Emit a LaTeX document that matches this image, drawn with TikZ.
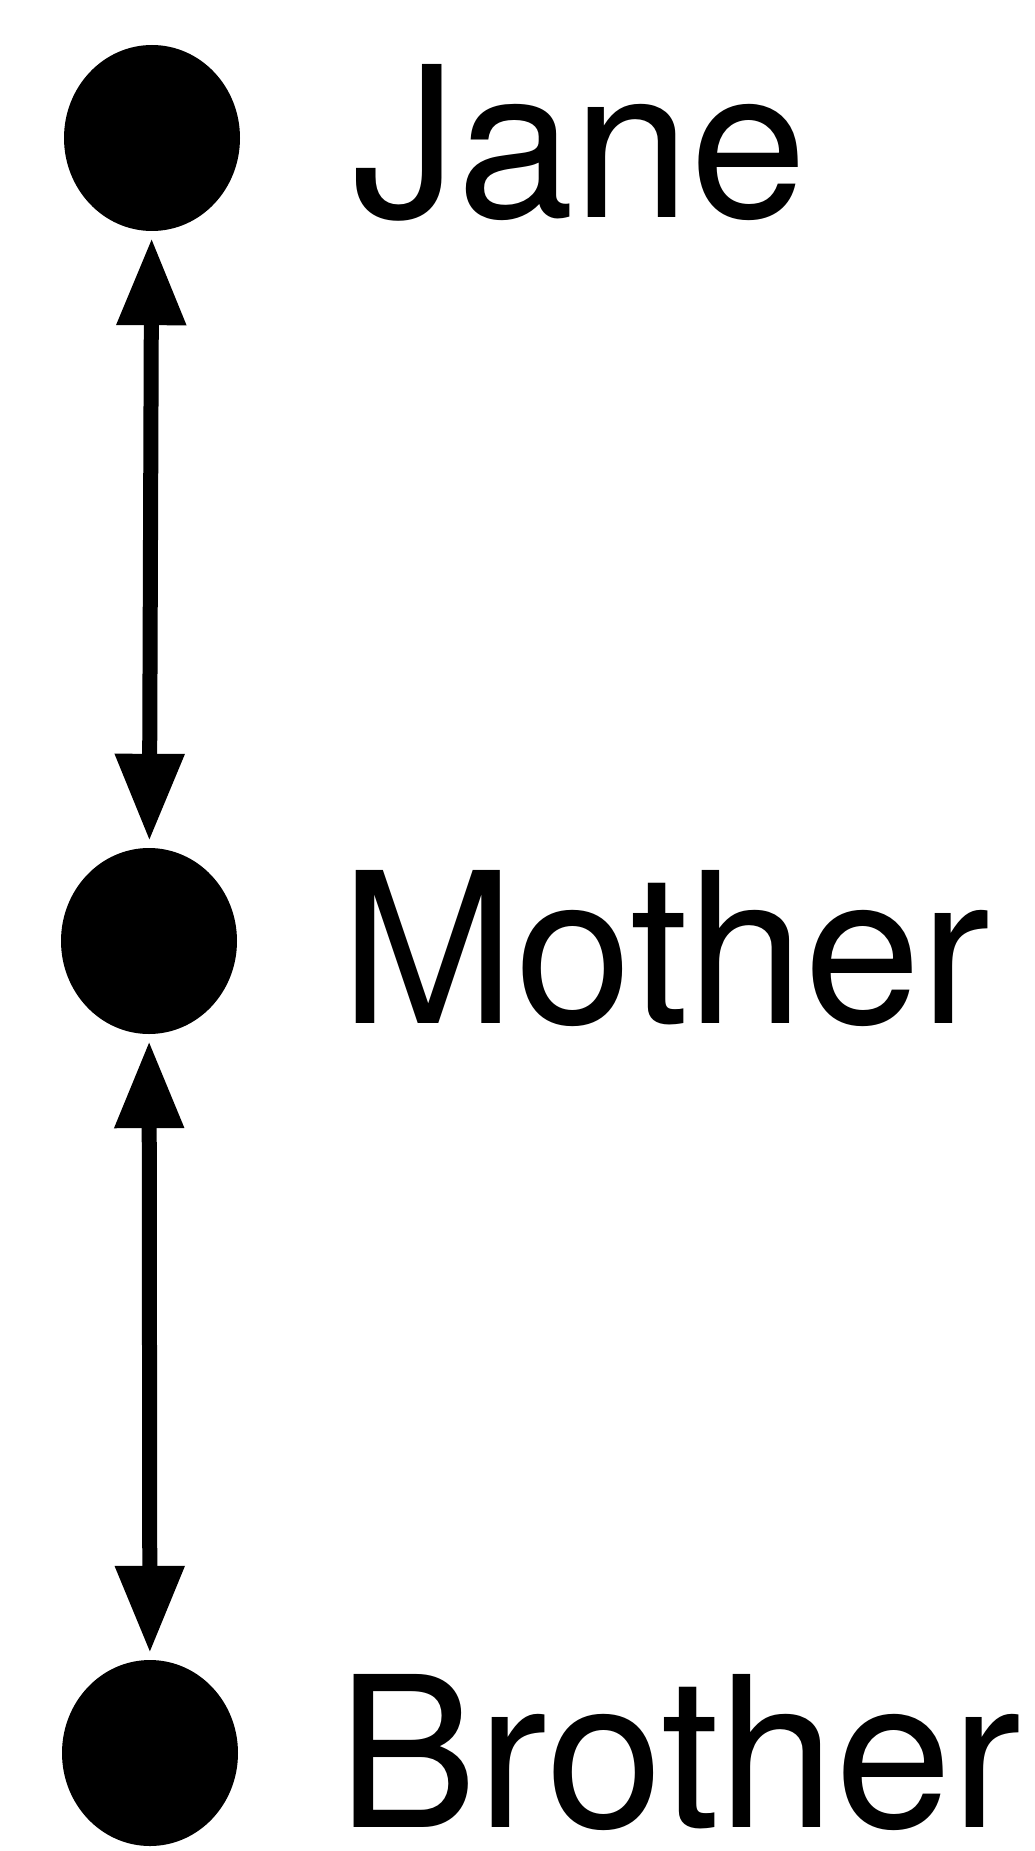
\documentclass[tikz,border=0pt]{standalone}
\usepackage{fontspec}
\setmainfont{TeX Gyre Heros}
\usetikzlibrary{arrows.meta,shapes.geometric}
\begin{document}
\begin{tikzpicture}[x=1pt, y=-1pt, >={Triangle[length=87pt,width=66pt]},
  persona/.style={ellipse, fill=black, minimum width=176pt, minimum height=186pt, inner sep=0pt},
  nombre/.style={anchor=base west, inner sep=0pt, font=\fontsize{210}{250}\selectfont},
  enlace/.style={<->, line width=15pt, shorten <=7pt, shorten >=7pt}]
\useasboundingbox (0,0) rectangle (1034,1851);
% Jane
\node[persona] (jane) at (152,138) {};
\node[nombre] (tjane) at (352,218) {Jane};
% Mother
\node[persona] (mother) at (149,941) {};
\node[nombre] (tmother) at (340,1023) {Mother};
% Brother
\node[persona] (brother) at (150,1753) {};
\node[nombre] (tbrother) at (337,1827) {Brother};
% Enlaces
\draw[enlace] (jane) -- (mother);
\draw[enlace] (mother) -- (brother);
\end{tikzpicture}
\end{document}
